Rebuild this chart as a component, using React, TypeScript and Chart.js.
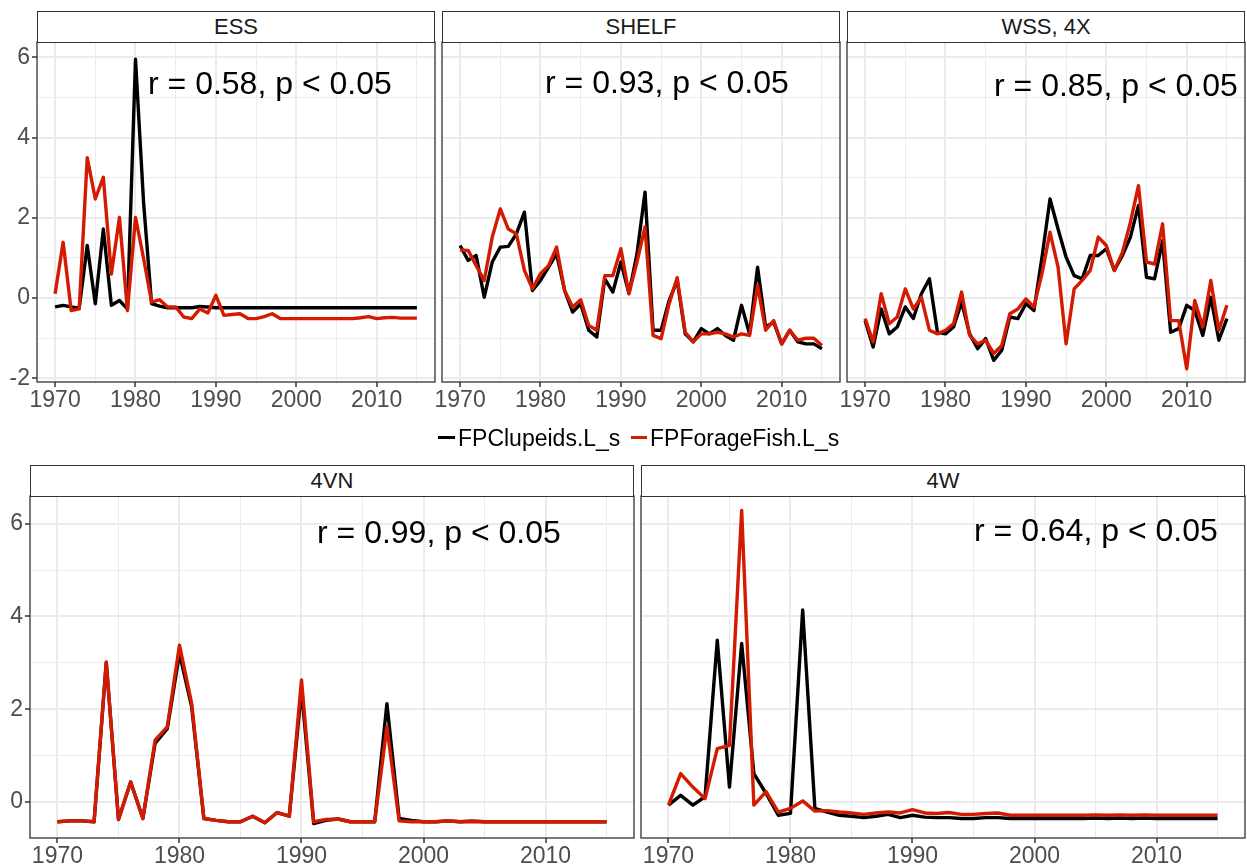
import React, { useEffect, useRef } from 'react';
import { Chart, registerables } from 'chart.js';

Chart.register(...registerables);

const years = [
  1970, 1971, 1972, 1973, 1974, 1975, 1976, 1977, 1978, 1979,
  1980, 1981, 1982, 1983, 1984, 1985, 1986, 1987, 1988, 1989,
  1990, 1991, 1992, 1993, 1994, 1995, 1996, 1997, 1998, 1999,
  2000, 2001, 2002, 2003, 2004, 2005, 2006, 2007, 2008, 2009,
  2010, 2011, 2012, 2013, 2014, 2015,
];

const seriesNames = ['FPClupeids.L_s', 'FPForageFish.L_s'];

const essClupeids = [
  -0.22, -0.18, -0.22, -0.25, 1.31, -0.14, 1.72, -0.18, -0.06, -0.27,
  5.95, 2.4, -0.14, -0.2, -0.24, -0.24, -0.24, -0.24, -0.21, -0.22,
  -0.24, -0.24, -0.24, -0.24, -0.24, -0.24, -0.24, -0.24, -0.24, -0.24,
  -0.24, -0.24, -0.24, -0.24, -0.24, -0.24, -0.24, -0.24, -0.24, -0.24,
  -0.24, -0.24, -0.24, -0.24, -0.24, -0.24,
];
const essForage = [
  0.11, 1.39, -0.31, -0.27, 3.5, 2.47, 3.01, 0.6, 2.01, -0.31,
  2.01, 1.0, -0.1, -0.04, -0.22, -0.22, -0.47, -0.51, -0.27, -0.37,
  0.07, -0.43, -0.41, -0.39, -0.51, -0.51, -0.46, -0.39, -0.51, -0.51,
  -0.51, -0.51, -0.51, -0.51, -0.51, -0.51, -0.51, -0.51, -0.49, -0.46,
  -0.51, -0.49, -0.48, -0.5, -0.5, -0.5,
];

const shelfClupeids = [
  1.31, 0.94, 1.06, 0.02, 0.9, 1.27, 1.29, 1.6, 2.14, 0.19,
  0.44, 0.77, 1.1, 0.19, -0.35, -0.14, -0.8, -0.97, 0.48, 0.15,
  0.9, 0.11, 1.1, 2.64, -0.8, -0.8, -0.06, 0.44, -0.89, -1.09,
  -0.76, -0.89, -0.76, -0.93, -1.05, -0.18, -0.89, 0.77, -0.72, -0.6,
  -1.14, -0.8, -1.09, -1.14, -1.14, -1.26,
];
const shelfForage = [
  1.2, 1.19, 0.81, 0.44, 1.52, 2.22, 1.72, 1.6, 0.69, 0.23,
  0.61, 0.81, 1.27, 0.19, -0.22, -0.04, -0.68, -0.8, 0.56, 0.56,
  1.23, 0.11, 0.9, 1.77, -0.93, -1.01, -0.14, 0.51, -0.85, -1.09,
  -0.89, -0.89, -0.85, -0.89, -0.97, -0.89, -0.93, 0.32, -0.8, -0.56,
  -1.14, -0.8, -1.05, -1.0, -1.0, -1.18,
];

const wssClupeids = [
  -0.56, -1.22, -0.27, -0.89, -0.72, -0.22, -0.51, 0.11, 0.48, -0.85,
  -0.89, -0.72, -0.1, -0.89, -1.26, -1.01, -1.55, -1.3, -0.47, -0.51,
  -0.14, -0.31, 1.02, 2.47, 1.72, 1.02, 0.56, 0.48, 1.06, 1.06,
  1.23, 0.69, 1.06, 1.52, 2.31, 0.52, 0.48, 1.43, -0.85, -0.76,
  -0.18, -0.31, -0.93, 0.02, -1.05, -0.51,
];
const wssForage = [
  -0.51, -1.09, 0.11, -0.64, -0.47, 0.23, -0.27, 0.02, -0.8, -0.89,
  -0.8, -0.64, 0.15, -0.93, -1.14, -1.05, -1.38, -1.18, -0.39, -0.27,
  -0.02, -0.22, 0.61, 1.64, 0.77, -1.14, 0.23, 0.44, 0.69, 1.52,
  1.31, 0.69, 1.14, 1.89, 2.8, 0.9, 0.85, 1.85, -0.56, -0.56,
  -1.76, -0.06, -0.72, 0.44, -0.8, -0.18,
];

const vnClupeids = [
  -0.43, -0.41, -0.41, -0.43, 3.0, -0.38, 0.43, -0.36, 1.26, 1.58,
  3.2, 2.05, -0.36, -0.4, -0.43, -0.43, -0.31, -0.45, -0.23, -0.31,
  2.41, -0.47, -0.4, -0.37, -0.43, -0.43, -0.43, 2.12, -0.36, -0.4,
  -0.43, -0.43, -0.41, -0.43, -0.42, -0.43, -0.43, -0.43, -0.43, -0.43,
  -0.43, -0.43, -0.43, -0.43, -0.43, -0.43,
];
const vnForage = [
  -0.43, -0.41, -0.41, -0.43, 3.02, -0.38, 0.43, -0.36, 1.33, 1.62,
  3.38, 2.12, -0.36, -0.4, -0.43, -0.43, -0.31, -0.45, -0.23, -0.31,
  2.63, -0.43, -0.38, -0.37, -0.43, -0.43, -0.43, 1.62, -0.41, -0.43,
  -0.43, -0.43, -0.41, -0.43, -0.42, -0.43, -0.43, -0.43, -0.43, -0.43,
  -0.43, -0.43, -0.43, -0.43, -0.43, -0.43,
];

const wClupeids = [
  -0.07, 0.14, -0.07, 0.11, 3.49, 0.32, 3.42, 0.61, 0.18, -0.29,
  -0.25, 4.14, -0.14, -0.22, -0.29, -0.31, -0.34, -0.31, -0.27, -0.34,
  -0.29, -0.33, -0.34, -0.34, -0.36, -0.36, -0.34, -0.34, -0.36, -0.36,
  -0.36, -0.36, -0.36, -0.36, -0.36, -0.35, -0.36, -0.35, -0.36, -0.35,
  -0.36, -0.36, -0.36, -0.36, -0.36, -0.36,
];
const wForage = [
  -0.07, 0.61, 0.32, 0.07, 1.15, 1.22, 6.29, -0.07, 0.22, -0.22,
  -0.14, 0.02, -0.2, -0.19, -0.22, -0.24, -0.27, -0.24, -0.22, -0.24,
  -0.17, -0.24, -0.25, -0.23, -0.27, -0.27, -0.25, -0.24, -0.29, -0.29,
  -0.29, -0.29, -0.29, -0.29, -0.29, -0.28, -0.29, -0.28, -0.29, -0.28,
  -0.29, -0.29, -0.29, -0.29, -0.29, -0.29,
];

const annotations = [
  'r = 0.58, p < 0.05',
  'r = 0.93, p < 0.05',
  'r = 0.85, p < 0.05',
  'r = 0.99, p < 0.05',
  'r = 0.64, p < 0.05',
];

const FONT = "'Liberation Sans', Arial, Helvetica, sans-serif";
const BLACK = '#000000';
const RED = '#d41a00';
const GRID = '#ebebeb';
const FRAME = '#333333';
const X_MIN = 1967.75;
const X_MAX = 2017.25;

const borderPlugin = {
  id: 'panelBorder',
  afterDraw(chart: any) {
    const { ctx, chartArea } = chart;
    ctx.save();
    ctx.strokeStyle = FRAME;
    ctx.lineWidth = 1.3;
    ctx.strokeRect(chartArea.left, chartArea.top, chartArea.right - chartArea.left, chartArea.bottom - chartArea.top);
    ctx.restore();
  },
};

type PanelProps = {
  title: string;
  note: string;
  noteLeft: number;
  noteTop: number;
  L: number;
  R: number;
  T: number;
  B: number;
  stripTop: number;
  lp: number;
  yMin: number;
  yMax: number;
  showY: boolean;
  clupeids: number[];
  forage: number[];
};

function Panel(p: PanelProps) {
  const ref = useRef<HTMLCanvasElement>(null);
  const plotW = p.R - p.L;
  const plotH = p.B - p.T;
  const W = p.lp + plotW + 2;
  const H = 2 + plotH + 30;
  const cLeft = p.L - p.lp;
  const cTop = p.T - 2;

  useEffect(() => {
    const canvas = ref.current!;
    const isMajorX = (c: any) => c.tick && Math.round(c.tick.value) % 10 === 0;
    const isMajorY = (c: any) => c.tick && Math.round(c.tick.value) % 2 === 0;
    const chart = new Chart(canvas, {
      type: 'line',
      data: {
        datasets: [
          {
            label: seriesNames[0],
            data: years.map((x, i) => ({ x, y: p.clupeids[i] })),
            borderColor: BLACK,
            backgroundColor: BLACK,
            borderWidth: 3.4,
            pointRadius: 0,
            tension: 0,
            borderJoinStyle: 'round',
            order: 2,
          },
          {
            label: seriesNames[1],
            data: years.map((x, i) => ({ x, y: p.forage[i] })),
            borderColor: RED,
            backgroundColor: RED,
            borderWidth: 3.4,
            pointRadius: 0,
            tension: 0,
            borderJoinStyle: 'round',
            order: 1,
          },
        ],
      },
      options: {
        responsive: false,
        animation: false,
        devicePixelRatio: 1,
        events: [],
        layout: { padding: { top: 2, right: 2, left: 0, bottom: 0 } },
        plugins: {
          legend: { display: false },
          tooltip: { enabled: false },
          title: { display: false },
        },
        scales: {
          x: {
            type: 'linear',
            min: X_MIN,
            max: X_MAX,
            border: { display: false },
            grid: {
              color: GRID,
              lineWidth: (c: any) => (isMajorX(c) ? 2 : 1),
              drawTicks: true,
              tickLength: 5,
              tickWidth: 1.5,
              tickColor: (c: any) => (isMajorX(c) ? FRAME : 'rgba(0,0,0,0)'),
            },
            ticks: {
              stepSize: 5,
              includeBounds: false,
              autoSkip: false,
              maxRotation: 0,
              minRotation: 0,
              padding: 0,
              color: '#4d4d4d',
              font: { family: FONT, size: 23 },
              callback: (v: any) => (Math.round(v) % 10 === 0 ? String(Math.round(v)) : ''),
            },
            afterFit: (s: any) => {
              s.height = 30;
              s.paddingLeft = 0;
              s.paddingRight = 0;
              s.paddingTop = 0;
              s.paddingBottom = 0;
            },
          },
          y: {
            type: 'linear',
            min: p.yMin,
            max: p.yMax,
            border: { display: false },
            grid: {
              color: GRID,
              lineWidth: (c: any) => (isMajorY(c) ? 2 : 1),
              drawTicks: p.showY,
              tickLength: p.showY ? 5 : 0,
              tickWidth: 1.5,
              tickColor: (c: any) => (isMajorY(c) ? FRAME : 'rgba(0,0,0,0)'),
            },
            ticks: {
              display: p.showY,
              stepSize: 1,
              includeBounds: false,
              padding: 2,
              color: '#4d4d4d',
              font: { family: FONT, size: 23 },
              callback: (v: any) => (Math.round(v) % 2 === 0 ? String(Math.round(v)) : ''),
            },
            afterFit: (s: any) => {
              s.width = p.lp;
              s.paddingLeft = 0;
              s.paddingRight = 0;
              s.paddingTop = 0;
              s.paddingBottom = 0;
            },
          },
        },
      },
      plugins: [borderPlugin],
    } as any);
    return () => chart.destroy();
  }, []);

  return (
    <>
      <canvas
        ref={ref}
        width={W}
        height={H}
        style={{ position: 'absolute', left: cLeft, top: cTop, width: W, height: H }}
      />
      <div
        style={{
          position: 'absolute',
          left: p.L,
          top: p.stripTop,
          width: plotW,
          height: p.T - p.stripTop + 1,
          boxSizing: 'border-box',
          border: '1.3px solid ' + FRAME,
          background: '#ffffff',
          display: 'flex',
          alignItems: 'center',
          justifyContent: 'center',
          fontFamily: FONT,
          fontSize: 22,
          color: '#1a1a1a',
        }}
      >
        {p.title}
      </div>
      <div
        style={{
          position: 'absolute',
          left: p.noteLeft,
          top: p.noteTop,
          fontFamily: FONT,
          fontSize: 32,
          lineHeight: '32px',
          color: '#000',
          whiteSpace: 'nowrap',
        }}
      >
        {p.note}
      </div>
    </>
  );
}

export default function App() {
  const topRow = { T: 42, B: 382, stripTop: 11, yMin: -2.09, yMax: 6.38 };
  const botRow = { T: 496, B: 838, stripTop: 465, yMin: -0.78, yMax: 6.6 };
  return (
    <div
      style={{
        position: 'fixed',
        left: 0,
        top: 0,
        width: 1247,
        height: 864,
        overflow: 'hidden',
        background: '#ffffff',
      }}
    >
      <Panel title="ESS" note={annotations[0]} noteLeft={148} noteTop={67} L={37} R={435} lp={37} showY={true} {...topRow} clupeids={essClupeids} forage={essForage} />
      <Panel title="SHELF" note={annotations[1]} noteLeft={545} noteTop={66} L={442} R={840} lp={22} showY={false} {...topRow} clupeids={shelfClupeids} forage={shelfForage} />
      <Panel title="WSS, 4X" note={annotations[2]} noteLeft={994} noteTop={69} L={847} R={1245} lp={22} showY={false} {...topRow} clupeids={wssClupeids} forage={wssForage} />
      <Panel title="4VN" note={annotations[3]} noteLeft={317} noteTop={516} L={30} R={634} lp={30} showY={true} {...botRow} clupeids={vnClupeids} forage={vnForage} />
      <Panel title="4W" note={annotations[4]} noteLeft={974} noteTop={514} L={641} R={1245} lp={22} showY={false} {...botRow} clupeids={wClupeids} forage={wForage} />

      <div style={{ position: 'absolute', left: 438, top: 436, width: 17, height: 3, background: BLACK }} />
      <div style={{ position: 'absolute', left: 458, top: 427, fontFamily: FONT, fontSize: 23, lineHeight: '23px', color: '#000', whiteSpace: 'nowrap' }}>
        {seriesNames[0]}
      </div>
      <div style={{ position: 'absolute', left: 631, top: 436, width: 16, height: 3, background: RED }} />
      <div style={{ position: 'absolute', left: 650, top: 427, fontFamily: FONT, fontSize: 23, lineHeight: '23px', color: '#000', whiteSpace: 'nowrap' }}>
        {seriesNames[1]}
      </div>
    </div>
  );
}
